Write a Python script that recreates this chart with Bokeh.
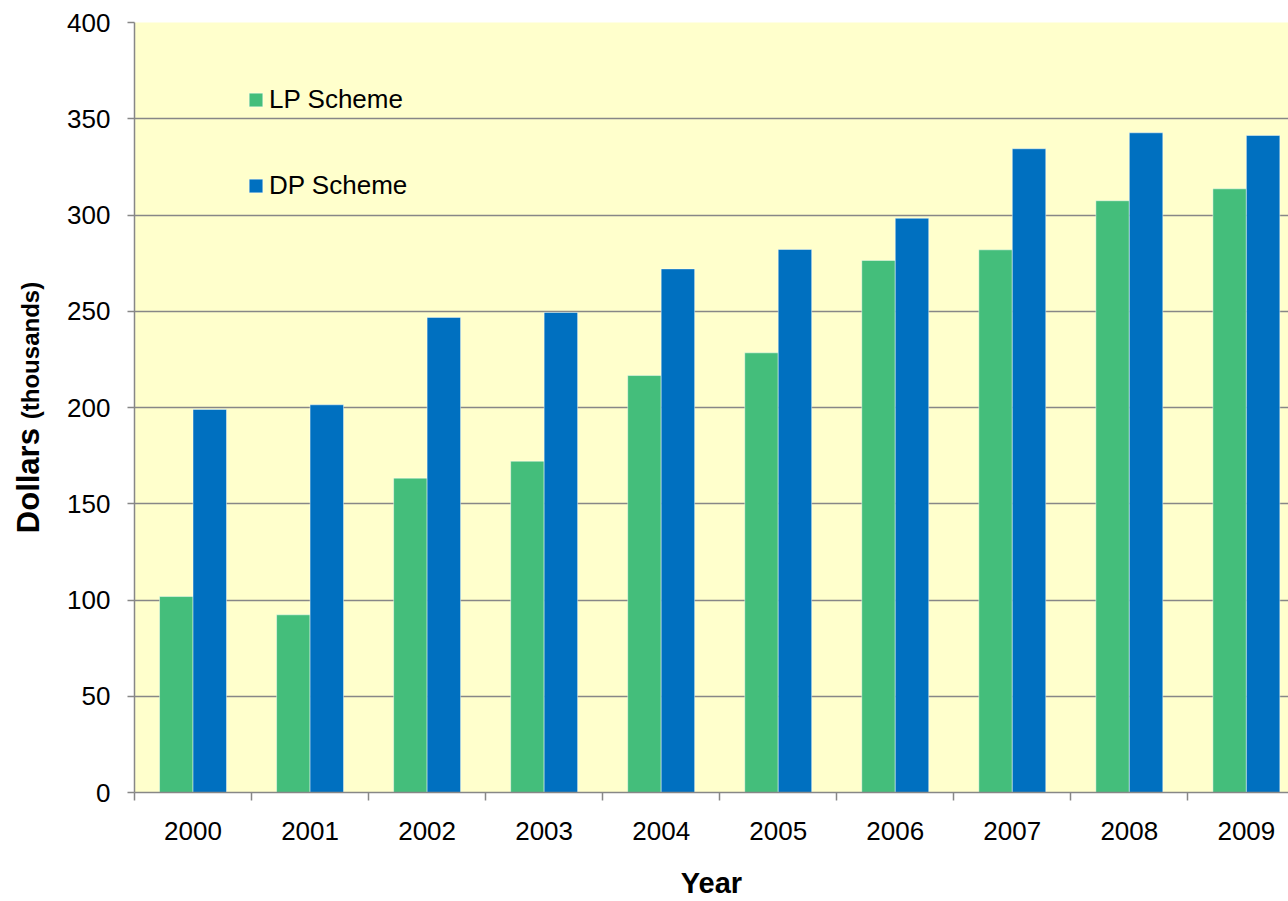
import math
from bokeh.plotting import figure
from bokeh.layouts import row
from bokeh.core.properties import value
from bokeh.models import (ColumnDataSource, FixedTicker, Range1d, Legend, LegendItem)
from bokeh.transform import dodge
from bokeh.embed import file_html
from bokeh.resources import INLINE

years = ["2000", "2001", "2002", "2003", "2004", "2005", "2006", "2007", "2008", "2009"]
lp_scheme = [101.8, 92.3, 163.3, 172.1, 216.6, 228.4, 276.4, 281.9, 307.4, 313.6]
dp_scheme = [199.0, 201.4, 246.8, 249.4, 272.0, 282.1, 298.3, 334.4, 342.7, 341.3]
y_ticks = [0, 50, 100, 150, 200, 250, 300, 350, 400]

FONT = "Liberation Sans"
GREEN = "#44BE7B"
BLUE = "#0070C0"
GRID = "#878787"

H = 901
LW = 48  # width of the strip holding the y-axis title

pos = list(range(1, len(years) + 1))
src = ColumnDataSource(dict(x=pos, lp=lp_scheme, dp=dp_scheme))

p = figure(width=1288 - LW, height=H, output_backend="svg", toolbar_location=None,
           x_range=Range1d(0.5, 10.36), y_range=Range1d(0, 400),
           min_border_left=134 - LW, min_border_top=22, min_border_bottom=109, min_border_right=0)
p.background_fill_color = "#FFFFCC"
p.border_fill_color = "white"
p.outline_line_color = None

bw = 0.286
g = p.vbar(x=dodge("x", -0.143, range=p.x_range), top="lp", width=bw, source=src,
           fill_color=GREEN, line_color="white", line_alpha=0.45, line_width=1)
b = p.vbar(x=dodge("x", 0.143, range=p.x_range), top="dp", width=bw, source=src,
           fill_color=BLUE, line_color="white", line_alpha=0.45, line_width=1)

p.xgrid.grid_line_color = None
p.ygrid.grid_line_color = GRID
p.ygrid.grid_line_width = 1.5
p.ygrid.ticker = FixedTicker(ticks=y_ticks)

ya = p.yaxis[0]
ya.ticker = FixedTicker(ticks=y_ticks)
ya.axis_line_color = GRID
ya.axis_line_width = 1.5
ya.major_tick_line_color = GRID
ya.major_tick_line_width = 1.5
ya.major_tick_out = 7
ya.major_tick_in = 0
ya.minor_tick_line_color = None
ya.major_label_text_font = FONT
ya.major_label_text_font_size = "26px"
ya.major_label_text_color = "black"
ya.major_label_standoff = 17

xa = p.xaxis[0]
xa.ticker = FixedTicker(ticks=pos, minor_ticks=[i + 0.5 for i in range(0, len(years) + 1)])
xa.major_label_overrides = {i: y for i, y in zip(pos, years)}
xa.axis_line_color = GRID
xa.axis_line_width = 1.5
xa.major_tick_line_color = None
xa.major_tick_out = 0
xa.major_tick_in = 0
xa.minor_tick_line_color = GRID
xa.minor_tick_line_width = 1.5
xa.minor_tick_out = 8
xa.minor_tick_in = 0
xa.major_label_text_font = FONT
xa.major_label_text_font_size = "26px"
xa.major_label_text_color = "black"
xa.major_label_standoff = 21
xa.axis_label = "Year"
xa.axis_label_text_font = FONT
xa.axis_label_text_font_size = "29px"
xa.axis_label_text_font_style = "bold"
xa.axis_label_text_color = "black"
xa.axis_label_standoff = 24

legend = Legend(items=[LegendItem(label="LP Scheme", renderers=[g]),
                       LegendItem(label="DP Scheme", renderers=[b])],
                location=(113, 591), orientation="vertical",
                glyph_width=17, glyph_height=17, label_standoff=5, label_height=30,
                spacing=55, padding=0, margin=0,
                label_text_font=FONT, label_text_font_size="26px", label_text_color="black",
                background_fill_alpha=0, border_line_alpha=0)
p.add_layout(legend)

# strip with the y-axis title (two sizes of bold text); its frame lines up with the main one
t = figure(width=LW, height=H, output_backend="svg", toolbar_location=None,
           x_range=Range1d(0, LW), y_range=Range1d(0, 400),
           x_axis_type=None, y_axis_type=None,
           min_border_left=0, min_border_right=0, min_border_top=22, min_border_bottom=109)
t.outline_line_color = None
t.xgrid.grid_line_color = None
t.ygrid.grid_line_color = None
t.background_fill_color = "white"
t.border_fill_color = "white"
t.text(x=[28], y=[162.0], text=["Dollars"], angle=math.pi / 2,
       text_font=value(FONT), text_font_size=value("31px"), text_font_style="bold",
       text_align="center", text_baseline="middle", text_color="black")
t.text(x=[29.5], y=[229.6], text=["(thousands)"], angle=math.pi / 2,
       text_font=value(FONT), text_font_size=value("24px"), text_font_style="bold",
       text_align="center", text_baseline="middle", text_color="black")

layout = row(t, p, spacing=0)
open("out.html", "w").write(file_html(layout, INLINE))
